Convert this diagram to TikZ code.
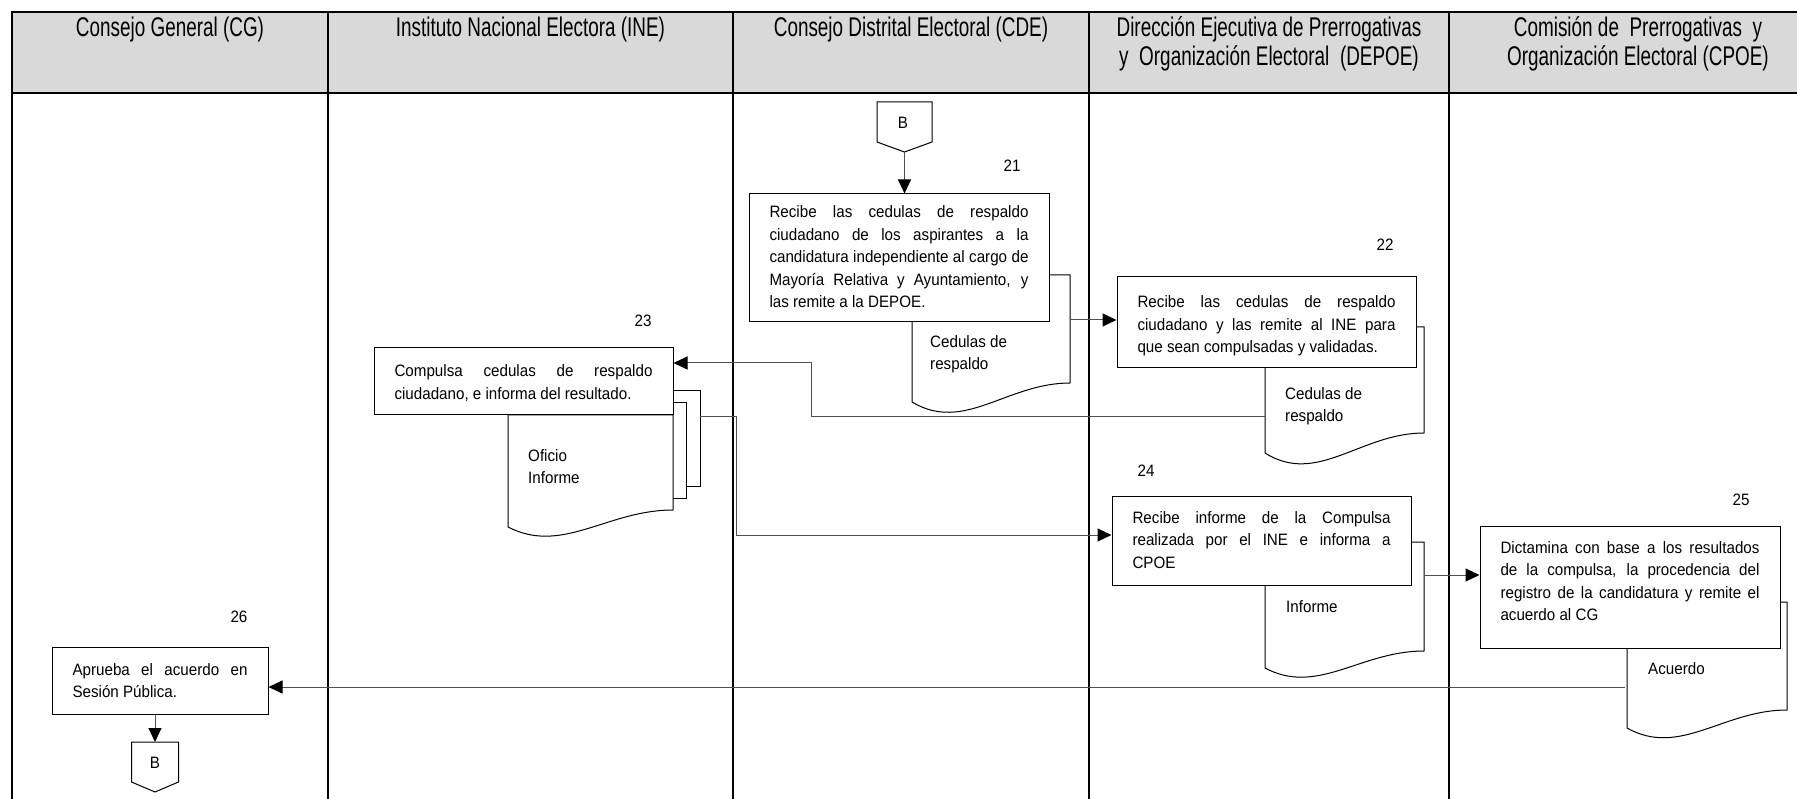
\documentclass[tikz,border=0pt]{standalone}
\usepackage{fontspec}
\setmainfont{Liberation Sans}
\newfontfamily\bodyfnt[FakeStretch=0.92]{Liberation Sans}
\newfontfamily\headfnt[FakeStretch=0.7]{Liberation Sans}
\usetikzlibrary{arrows.meta}
\definecolor{hdrgray}{HTML}{D9D9D9}
\definecolor{conngray}{HTML}{505050}
\newcommand{\jl}[1]{\leavevmode\hbox to \hsize{#1}\\}
\newcommand{\bodyset}[1]{\bodyfnt\fontsize{16.5}{#1}\selectfont
  \spaceskip=4.2pt plus 30pt minus 0.5pt\xspaceskip=4.2pt plus 30pt minus 0.5pt\relax}
\newcommand{\headset}{\headfnt\fontsize{27}{29}\selectfont
  \spaceskip=5.3pt\xspaceskip=5.3pt\relax}
\newcommand{\docshp}[5]{%
  \filldraw[docst] (#1,#2) -- (#3,#2) -- (#3,#4)
    .. controls ({#1+0.6*(#3-#1)},#4) and ({#1+0.33*(#3-#1)},{#5+1.65*(#5-#4)}) .. (#1,#5) -- cycle;}
\tikzset{
  tbl/.style={draw=black, line width=1.3pt},
  procbox/.style={draw=black, line width=1pt, fill=white, inner xsep=20.5pt, inner ysep=0pt,
    align=flush left, text height=0pt, font=\bodyset{22.5}},
  docst/.style={draw=black, line width=1pt, fill=white},
  conn/.style={draw=conngray, line width=1pt, -{Triangle[length=14pt,width=13pt,color=black]}},
  numlbl/.style={font=\bodyset{20}, inner sep=0pt},
  doclbl/.style={font=\bodyset{22}, anchor=base west, inner sep=0pt,
    text width=130pt, align=flush left},
  hdr/.style={font=\headset, anchor=base, inner sep=0pt, text width=345pt, align=flush center},
}
\begin{document}
\begin{tikzpicture}[x=1pt,y=-1pt]
\useasboundingbox (0,0) rectangle (1797,799);
% table
\fill[hdrgray] (12,12) rectangle (1797,93);
\draw[tbl] (1797,12) -- (12,12) -- (12,799);
\draw[tbl] (12,93) -- (1797,93);
\foreach \xx in {328,733,1089,1449} \draw[tbl] (\xx,12) -- (\xx,799);
% headers
\node[hdr] (hcg) at (170,37) {Consejo General (CG)};
\node[hdr] (hine) at (530.5,37) {Instituto Nacional Electora (INE)};
\node[hdr] (hcde) at (911,37) {Consejo Distrital Electoral (CDE)};
\node[hdr] (hdepoe) at (1269,37) {Dirección Ejecutiva de Prerrogativas\\y\ \ Organización Electoral\ \ (DEPOE)};
\node[hdr] (hcpoe) at (1638,37) {Comisión de\ \ Prerrogativas\ \ y\\Organización Electoral (CPOE)};
% documents (behind boxes)
\docshp{912}{275}{1070}{383}{402}
\docshp{1265}{327}{1424}{433}{453}
\docshp{1265}{542}{1424}{651}{668}
\docshp{1627}{602}{1787}{710}{728}
\filldraw[docst] (660,391) rectangle (700,486);
\filldraw[docst] (660,403) rectangle (686,498);
\docshp{508}{415}{673}{510}{527}
% off-page connector B (CDE)
\filldraw[docst] (877,102) -- (932,102) -- (932,142) -- (904.5,152) -- (877,142) -- cycle;
\node[numlbl] (Bcde) at (903,123) {B};
\coordinate (Bcdetip) at (904.5,152);
% process boxes
\node[procbox, text width=259pt, minimum height=128pt, text depth=80pt] (b21) at (899,258) {%
\jl{Recibe las cedulas de respaldo}%
\jl{ciudadano de los aspirantes a la}%
\jl{candidatura independiente al cargo de}%
\jl{Mayoría Relativa y Ayuntamiento, y}%
las remite a la DEPOE.};
\node[procbox, text width=258pt, minimum height=91pt, text depth=29pt] (b22) at (1266.5,322.5) {%
\jl{Recibe las cedulas de respaldo}%
\jl{ciudadano y las remite al INE para}%
que sean compulsadas y validadas.};
\node[procbox, text width=258pt, minimum height=67pt, text depth=9pt] (b23) at (523.5,381.5) {%
\jl{Compulsa cedulas de respaldo}%
ciudadano, e informa del resultado.};
\node[procbox, text width=258pt, minimum height=89pt, text depth=35pt] (b24) at (1261.5,540.5) {%
\jl{Recibe informe de la Compulsa}%
\jl{realizada por el INE e informa a}%
CPOE};
\node[procbox, text width=259pt, minimum height=122pt, text depth=68pt] (b25) at (1630,587) {%
\jl{Dictamina con base a los resultados}%
\jl{de la compulsa, la procedencia del}%
\jl{registro de la candidatura y remite el}%
acuerdo al CG};
\node[procbox, text width=175pt, minimum height=67pt, text depth=11pt] (b26) at (160,680.5) {%
\jl{Aprueba el acuerdo en}%
Sesión Pública.};
% off-page connector B (CG)
\filldraw[docst] (131.5,742) -- (178.5,742) -- (178.5,782) -- (155,792) -- (131.5,782) -- cycle;
\node[numlbl] (Bcg) at (155,763) {B};
\coordinate (Bcgtop) at (155,742);
% step numbers
\node[numlbl] (n21) at (1012,166) {21};
\node[numlbl] (n22) at (1385,245) {22};
\node[numlbl] (n23) at (643,321) {23};
\node[numlbl] (n24) at (1146,471) {24};
\node[numlbl] (n25) at (1741,500) {25};
\node[numlbl] (n26) at (239,617) {26};
% document labels
\node[doclbl] (l21) at (930,348) {Cedulas de\\respaldo};
\node[doclbl] (l22) at (1285,400) {Cedulas de\\respaldo};
\node[doclbl] (l23) at (528,461) {Oficio\\Informe};
\node[doclbl] (l24) at (1286,612) {Informe};
\node[doclbl] (l25) at (1648,674) {Acuerdo};
% connectors
\draw[conn] (Bcdetip) -- (Bcdetip |- b21.north);
\coordinate (d21r) at (1070,320);
\draw[conn] (d21r) -- (d21r -| b22.west);
\coordinate (d22l) at (1265,417);
\coordinate (k1) at (811,417);
\coordinate (k2) at (811,363);
\draw[conn] (d22l) -- (k1) -- (k2) -- (k2 -| b23.east);
\coordinate (m23r) at (700,417);
\coordinate (k3) at (736,417);
\coordinate (k4) at (736,535);
\draw[conn] (m23r) -- (k3) -- (k4) -- (k4 -| b24.west);
\coordinate (d24r) at (1424,575);
\draw[conn] (d24r) -- (d24r -| b25.west);
\coordinate (d25l) at (1625,687);
\draw[conn] (d25l) -- (d25l -| b26.east);
\draw[conn] (Bcgtop |- b26.south) -- (Bcgtop);
\end{tikzpicture}
\end{document}
